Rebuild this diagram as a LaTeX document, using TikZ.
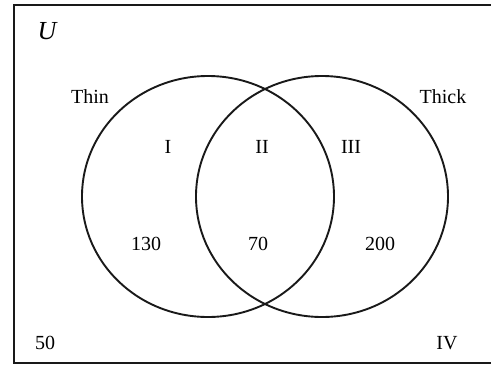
\documentclass[tikz,border=0pt]{standalone}
\usepackage{fontspec}
\setmainfont{Liberation Serif}
\usetikzlibrary{shapes.geometric}
\begin{document}
\begin{tikzpicture}[x=1pt,y=-1pt,
  lbl/.style={inner sep=0pt,font=\fontsize{20}{22}\selectfont},
  setline/.style={line width=1.9pt,draw=black!90}]
\useasboundingbox (0,0) rectangle (491,365);
\coordinate (tr) at (495,4.5);
\coordinate (tl) at (13.5,4.5);
\coordinate (bl) at (13.5,363);
\coordinate (br) at (495,363);
\draw[setline,line width=2pt] (tr) -- (tl) -- (bl) -- (br);
\node[setline,ellipse,minimum width=252pt,minimum height=241pt,inner sep=0pt] (A) at (208,196.5) {};
\node[setline,ellipse,minimum width=252pt,minimum height=241pt,inner sep=0pt] (B) at (322,196.5) {};
\node[lbl,font=\fontsize{26}{28}\selectfont\itshape] (U) at (47,31) {U};
\node[lbl] (thin) at (90,97) {Thin};
\node[lbl] (thick) at (443,97) {Thick};
\node[lbl] (r1) at (168,147) {I};
\node[lbl] (r2) at (262,147) {II};
\node[lbl] (r3) at (351,147) {III};
\node[lbl] (n1) at (146,244) {130};
\node[lbl] (n2) at (258,244) {70};
\node[lbl] (n3) at (380,244) {200};
\node[lbl] (n4) at (45,343) {50};
\node[lbl] (r4) at (447,343) {IV};
\end{tikzpicture}
\end{document}
